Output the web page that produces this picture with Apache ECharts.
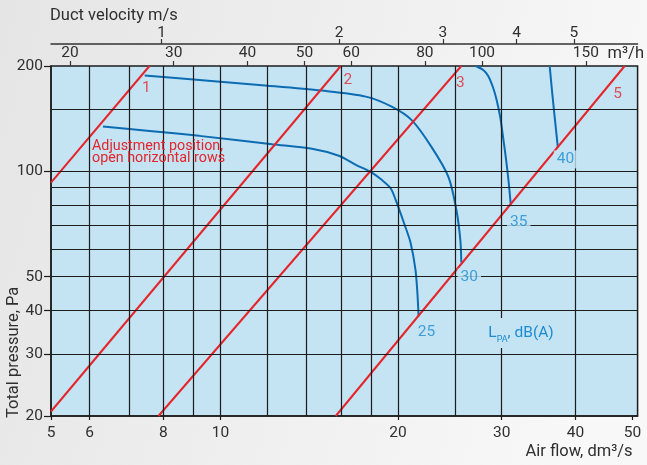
<!DOCTYPE html>
<html>
<head>
<meta charset="utf-8">
<script src="https://cdn.jsdelivr.net/npm/echarts@6/dist/echarts.min.js"></script>
<style>
  html, body { margin: 0; padding: 0; background: #efefef; }
  #chart { width: 647px; height: 465px; }
</style>
</head>
<body>
<div id="chart"></div>
<script>
// Axis ticks and grid lines (air flow in dm³/s, pressure in Pa)
const FLOW_MIN = 5.16, FLOW_MAX = 51;
const P_MIN = 20, P_MAX = 200;
const flowTicks = [FLOW_MIN, 6, 8, 10, 20, 30, 40, 50];
const flowGridLines = [6, 7, 8, 9, 10, 12, 14, 16, 18, 20, 25, 30, 40];
const pressureTicks = [20, 30, 40, 50, 100, 200];
const pressureGridLines = [30, 40, 50, 60, 70, 80, 90, 100, 150];
const flowM3hTicks = [20, 30, 40, 50, 60, 80, 100, 150];
const velocityTicks = [1, 2, 3, 4, 5];

const M3H_PER_DM3S = 3.6;     // 1 dm³/s = 3.6 m³/h
const DM3S_PER_MS = 7.95;     // flow through the duct at 1 m/s

// Damper adjustment positions: [air flow dm³/s, total pressure Pa]
const positionNames = ['1', '2', '3', '5'];
const position1 = [[5.16, 92.8], [7.58, 200]];
const position2 = [[5.16, 20.6], [16.0, 200]];
const position3 = [[7.85, 20], [25.62, 200]];
const position5 = [[15.69, 20], [48.49, 200]];
const positionLines = [position1, position2, position3, position5];

// Sound pressure level curves L_PA, dB(A)
const lpaLevels = [25, 30, 35, 40];
const lpa25 = [[6.32, 134.3], [7.58, 130.5], [9.21, 126.3], [12.24, 119.5], [14.30, 116.0],
  [15.88, 110.8], [16.97, 104.4], [17.98, 99.7], [18.77, 94.6], [19.44, 89.5], [19.82, 83.0],
  [20.53, 70.4], [21.01, 62.6], [21.42, 52.4], [21.59, 44.5], [21.68, 38.5]];
const lpa30 = [[7.44, 187.9], [9.21, 182.4], [11.63, 176.5], [14.86, 170.1], [17.64, 163.5],
  [19.52, 153.1], [21.09, 140.3], [22.80, 117.5], [24.36, 96.5], [25.13, 77.7], [25.52, 63.8],
  [25.62, 54.9]];
const lpa35 = [[27.11, 200], [27.91, 194.8], [28.46, 187.3], [29.02, 173.1], [29.41, 160.0],
  [29.82, 143.1], [30.17, 124.7], [30.52, 107.9], [30.82, 93.4], [31.08, 80.3]];
const lpa40 = [[36.18, 200], [36.50, 170.8], [36.86, 145.0], [37.36, 116.7]];
const lpaCurves = [lpa25, lpa30, lpa35, lpa40];

const FONT = 'Roboto';
const RED = '#e5252b';
const BLUE = '#0b6cb3';
const LABEL_BLUE = '#1c8ccf';
const FILL = '#c4e4f4';
const INK = '#2f2f2f';
const LINE = '#1c1c1c';

const tickText = { fontFamily: FONT, fontSize: 15.5, color: INK };
const nameText = { fontFamily: FONT, fontSize: 16.5, color: INK };

// label placement next to the upper / lower end of each line
const lpaLabelOffsets = [[8, 16], [8, 15], [8, 17.5], [7.5, 11.5]];
const positionLabelOffsets = [[-3, 22], [7, 14], [-1, 17], [-7, 28]];

const chart = echarts.init(document.getElementById('chart'), null, { renderer: 'canvas' });

const gridLines = {
  type: 'line',
  data: [],
  silent: true,
  z: 1,
  markLine: {
    silent: true,
    symbol: ['none', 'none'],
    animation: false,
    label: { show: false },
    emphasis: { disabled: true },
    lineStyle: { color: LINE, width: 1.2, type: 'solid' },
    data: [
      ...flowGridLines.map(v => ({ xAxis: v })),
      ...pressureGridLines.map(v => ({ yAxis: v }))
    ]
  }
};

const option = {
  backgroundColor: new echarts.graphic.LinearGradient(0, 0, 1, 0.4, [
    { offset: 0, color: '#e5e5e5' },
    { offset: 1, color: '#f8f8f8' }
  ]),
  animation: false,
  grid: {
    left: 51, right: 7, top: 66, bottom: 49,
    show: true, backgroundColor: FILL, borderColor: LINE, borderWidth: 1.5
  },
  xAxis: [
    {
      type: 'log', min: FLOW_MIN, max: FLOW_MAX, position: 'bottom',
      axisLine: { show: true, lineStyle: { color: LINE, width: 1.5 } },
      axisTick: { show: true, length: 4, customValues: flowTicks, lineStyle: { color: LINE, width: 1.2 } },
      axisLabel: { ...tickText, margin: 9, customValues: flowTicks, formatter: v => String(Math.round(v)) },
      splitLine: { show: false },
      name: 'Air flow, dm³/s', nameLocation: 'end', nameGap: -5,
      nameTextStyle: { ...nameText, align: 'right', verticalAlign: 'top', padding: [27, 0, 0, 0] }
    },
    {
      type: 'log', min: FLOW_MIN * M3H_PER_DM3S, max: FLOW_MAX * M3H_PER_DM3S, position: 'top',
      axisLine: { show: false },
      axisTick: { show: true, length: 5, customValues: flowM3hTicks, lineStyle: { color: '#333', width: 1.2 } },
      axisLabel: { ...tickText, margin: 5, customValues: flowM3hTicks },
      splitLine: { show: false },
      name: 'm³/h', nameLocation: 'end', nameGap: -30,
      nameTextStyle: { ...nameText, align: 'left', verticalAlign: 'bottom', padding: [0, 0, 4, 0] }
    },
    {
      type: 'log', min: FLOW_MIN / DM3S_PER_MS, max: FLOW_MAX / DM3S_PER_MS, position: 'top', offset: 22,
      axisLine: { show: true, lineStyle: { color: '#333', width: 1.5 } },
      axisTick: { show: true, length: 5, customValues: velocityTicks, lineStyle: { color: '#333', width: 1.2 } },
      axisLabel: { ...tickText, margin: 3, customValues: velocityTicks },
      splitLine: { show: false },
      name: 'Duct velocity m/s', nameLocation: 'start', nameGap: 1,
      nameTextStyle: { ...nameText, align: 'left', verticalAlign: 'bottom', padding: [0, 0, 20, 0] }
    }
  ],
  yAxis: {
    type: 'log', min: P_MIN, max: P_MAX,
    axisLine: { show: true, lineStyle: { color: LINE, width: 1.5 } },
    axisTick: { show: true, length: 7, customValues: pressureTicks, lineStyle: { color: LINE, width: 1.2 } },
    axisLabel: { ...tickText, margin: 8, customValues: pressureTicks },
    splitLine: { show: false }
  },
  graphic: [
    {
      type: 'text', x: 14, y: 418, rotation: Math.PI / 2, z: 100,
      style: { text: 'Total pressure, Pa', fill: INK, font: `16.5px ${FONT}`, align: 'left', verticalAlign: 'middle' }
    },
    {
      type: 'text', x: 92, y: 140, z: 100,
      style: {
        text: 'Adjustment position,\nopen horizontal rows', fill: RED,
        font: `14.3px ${FONT}`, lineHeight: 12.5, align: 'left', verticalAlign: 'top'
      }
    },
    {
      type: 'text', x: 521, y: 333, z: 100,
      style: {
        text: '{l|L}{s|PA}{l|, dB(A)}',
        rich: {
          l: { fontSize: 15.5, fontFamily: FONT, fill: LABEL_BLUE, lineHeight: 22 },
          s: { fontSize: 9, fontFamily: FONT, fill: LABEL_BLUE, lineHeight: 10, verticalAlign: 'bottom' }
        },
        align: 'center', verticalAlign: 'middle', backgroundColor: FILL, padding: [4, 3]
      }
    }
  ],
  series: [
    gridLines,
    ...lpaCurves.map((pts, i) => ({
      type: 'line', name: 'LPA ' + lpaLevels[i], data: pts,
      symbol: 'none', showSymbol: false, smooth: 0.3,
      lineStyle: { color: BLUE, width: 2 }, z: 3, silent: true
    })),
    ...positionLines.map((pts, i) => ({
      type: 'line', name: 'Position ' + positionNames[i], data: pts,
      symbol: 'none', showSymbol: false,
      lineStyle: { color: RED, width: 2 }, z: 4, silent: true
    })),
    ...lpaCurves.map((pts, i) => ({
      type: 'scatter', data: [pts[pts.length - 1]], symbolSize: 0, z: 6, silent: true,
      label: {
        show: true, position: 'inside', offset: lpaLabelOffsets[i], formatter: String(lpaLevels[i]),
        color: LABEL_BLUE, fontSize: 15.5, fontFamily: FONT, backgroundColor: FILL, padding: [1, 3]
      }
    })),
    ...positionLines.map((pts, i) => ({
      type: 'scatter', data: [pts[pts.length - 1]], symbolSize: 0, z: 6, silent: true,
      label: {
        show: true, position: 'inside', offset: positionLabelOffsets[i], formatter: positionNames[i],
        color: RED, fontSize: 15.5, fontFamily: FONT
      }
    }))
  ]
};

chart.setOption(option);
</script>
</body>
</html>
